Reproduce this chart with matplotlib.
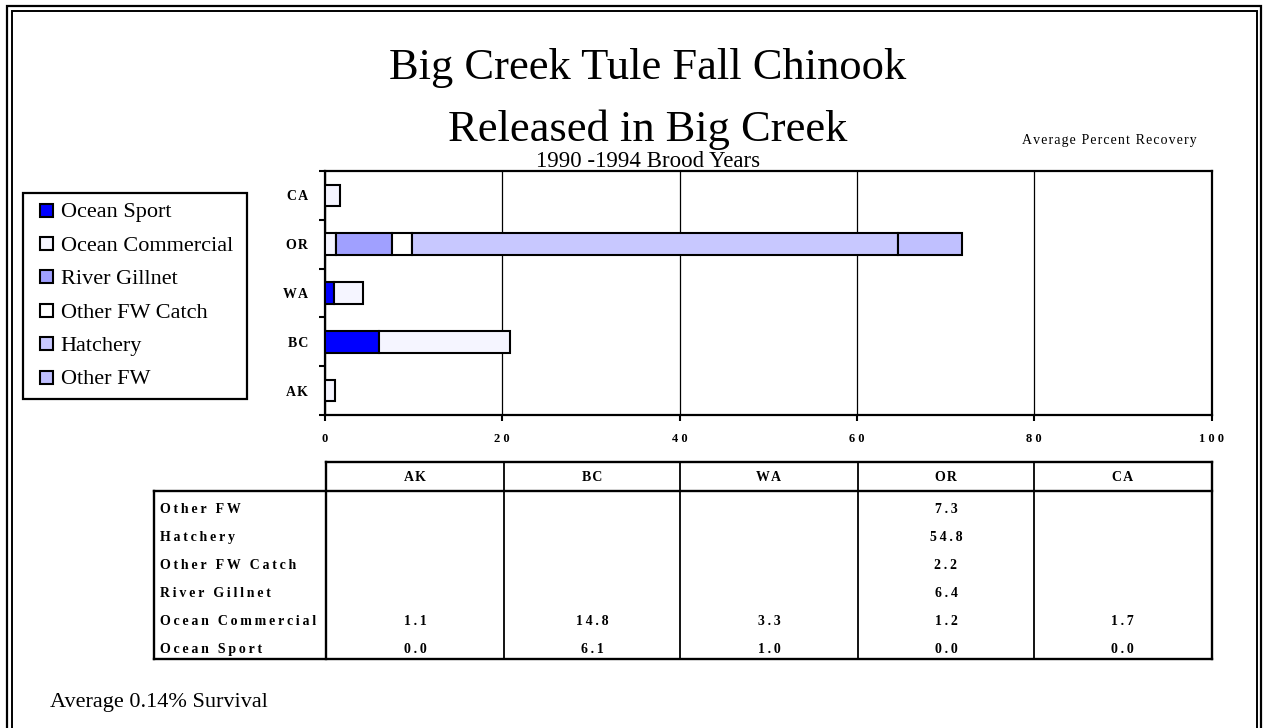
import matplotlib
matplotlib.use("Agg")
import matplotlib.pyplot as plt
from matplotlib.patches import Rectangle
import numpy as np

plt.rcParams['font.family'] = ['Liberation Serif', 'DejaVu Serif']

# ---- data -------------------------------------------------------------
regions = ['AK', 'BC', 'WA', 'OR', 'CA']
categories = ['Ocean Sport', 'Ocean Commercial', 'River Gillnet',
              'Other FW Catch', 'Hatchery', 'Other FW']
ocean_sport = [0.0, 6.1, 1.0, 0.0, 0.0]
ocean_commercial = [1.1, 14.8, 3.3, 1.2, 1.7]
river_gillnet = [None, None, None, 6.4, None]
other_fw_catch = [None, None, None, 2.2, None]
hatchery = [None, None, None, 54.8, None]
other_fw = [None, None, None, 7.3, None]
x_ticks = [0, 20, 40, 60, 80, 100]

series = [ocean_sport, ocean_commercial, river_gillnet,
          other_fw_catch, hatchery, other_fw]
colors = ['#0000FF', '#F5F5FF', '#A0A0FF', '#FFFFFF', '#C8C8FF', '#C0C0FF']

W, H = 1265, 728
fig = plt.figure(figsize=(W / 100, H / 100), dpi=100)
fig.patch.set_facecolor('white')

# overlay in pixel coordinates for frame, titles, legend and table
ov = fig.add_axes([0, 0, 1, 1])
ov.set_xlim(0, W)
ov.set_ylim(H, 0)
ov.axis('off')


def spaced(s, gap='\u2009'):
    return gap.join(s)


def text_c(x, yc, s, size, weight='normal', ha='left', cap=0.66):
    """Place text so that its capital letters are centred on yc (pixels)."""
    px = size * 100 / 72
    ov.text(x, yc + cap * px / 2, s, fontsize=size, fontweight=weight,
            ha=ha, va='baseline')


# double frame (open at the bottom)
ov.plot([7, 7, 1261, 1261], [740, 6, 6, 740], color='black', lw=1.6,
        clip_on=False, solid_joinstyle='miter')
ov.plot([11.5, 11.5, 1257, 1257], [740, 10.5, 10.5, 740], color='black',
        lw=1.4, clip_on=False, solid_joinstyle='miter')

# titles
ov.text(648, 79, 'Big Creek Tule Fall Chinook', fontsize=32, ha='center',
        va='baseline')
ov.text(648, 141, 'Released in Big Creek', fontsize=32, ha='center',
        va='baseline')
ov.text(648, 167, '1990 -1994 Brood Years', fontsize=16.5, ha='center',
        va='baseline')
ov.text(1022.5, 144, spaced('Average Percent Recovery', '\u200a'),
        fontsize=10, ha='left', va='baseline')
ov.text(50, 706.5, 'Average 0.14% Survival', fontsize=16, ha='left',
        va='baseline')

# ---- bar chart --------------------------------------------------------
ax = fig.add_axes([325 / W, 1 - 415 / H, (1211.5 - 325) / W, (415 - 171) / H])
ypos = np.arange(len(regions))
left = np.zeros(len(regions))
for vals, col in zip(series, colors):
    v = np.array([0.0 if a is None else a for a in vals])
    m = v > 0
    ax.barh(ypos[m], v[m], left=left[m], height=0.44, color=col,
            edgecolor='black', linewidth=1.5, zorder=3)
    left += v

ax.set_xlim(0, 100)
ax.set_ylim(-0.5, len(regions) - 0.5)
ax.set_xticks(x_ticks)
ax.set_xticklabels([spaced(str(t), '\u2005') for t in x_ticks],
                   fontsize=9, fontweight='bold')
ax.set_yticks(ypos)
ax.set_yticklabels([spaced(r, '\u200a') for r in regions], fontsize=10,
                   fontweight='bold')
ax.set_yticks(np.arange(-0.5, len(regions)), minor=True)
ax.tick_params(axis='y', which='major', length=0, pad=12)
ax.tick_params(axis='y', which='minor', length=4, width=1.5, direction='out')
ax.tick_params(axis='x', which='major', length=4, width=1.5, direction='out',
               pad=9)
ax.xaxis.grid(True, color='black', linewidth=0.9, zorder=1)
ax.set_axisbelow(True)
for sp in ax.spines.values():
    sp.set_linewidth(1.6)

# ---- legend -----------------------------------------------------------
ov.add_patch(Rectangle((22.7, 192.7), 224, 206.3, fill=False, ec='black',
                       lw=1.6))
for i, (name, col) in enumerate(zip(categories, colors)):
    yc = 210 + i * 33.4
    ov.add_patch(Rectangle((39.5, yc - 6.5), 13, 13, fc=col, ec='black',
                           lw=1.5))
    text_c(60.7, yc, name, 16)

# ---- data table -------------------------------------------------------
col_edges = [326, 504, 680, 858, 1034, 1211.5]
lab_left = 154
y_head_top, y_head_bot, y_bottom = 461.5, 490.5, 659
lw_out, lw_in = 1.7, 1.3
ov.plot([col_edges[0], col_edges[-1]], [y_head_top, y_head_top], 'k-', lw=lw_out)
ov.plot([lab_left, col_edges[-1]], [y_head_bot, y_head_bot], 'k-', lw=lw_out)
ov.plot([lab_left, col_edges[-1]], [y_bottom, y_bottom], 'k-', lw=lw_out)
ov.plot([lab_left, lab_left], [y_head_bot, y_bottom], 'k-', lw=lw_out)
ov.plot([col_edges[-1], col_edges[-1]], [y_head_top, y_bottom], 'k-', lw=lw_out)
for xe in col_edges[:-1]:
    ov.plot([xe, xe], [y_head_top, y_bottom], 'k-',
            lw=lw_out if xe == col_edges[0] else lw_in)

centers = [(a + b) / 2 for a, b in zip(col_edges[:-1], col_edges[1:])]
for cx, r in zip(centers, regions):
    text_c(cx, 476, spaced(r, '\u200a'), 10, weight='bold', ha='center',
           cap=0.68)

row_y0, row_dy = 508.5, 28
for j, (name, vals) in enumerate(zip(categories[::-1], series[::-1])):
    yc = row_y0 + j * row_dy
    text_c(160.5, yc, spaced(name), 10, weight='bold', cap=0.68)
    for cx, v in zip(centers, vals):
        if v is not None:
            text_c(cx, yc, spaced(f'{v:.1f}'), 10, weight='bold',
                   ha='center', cap=0.68)

fig.savefig('out.png', dpi=100, facecolor='white')
